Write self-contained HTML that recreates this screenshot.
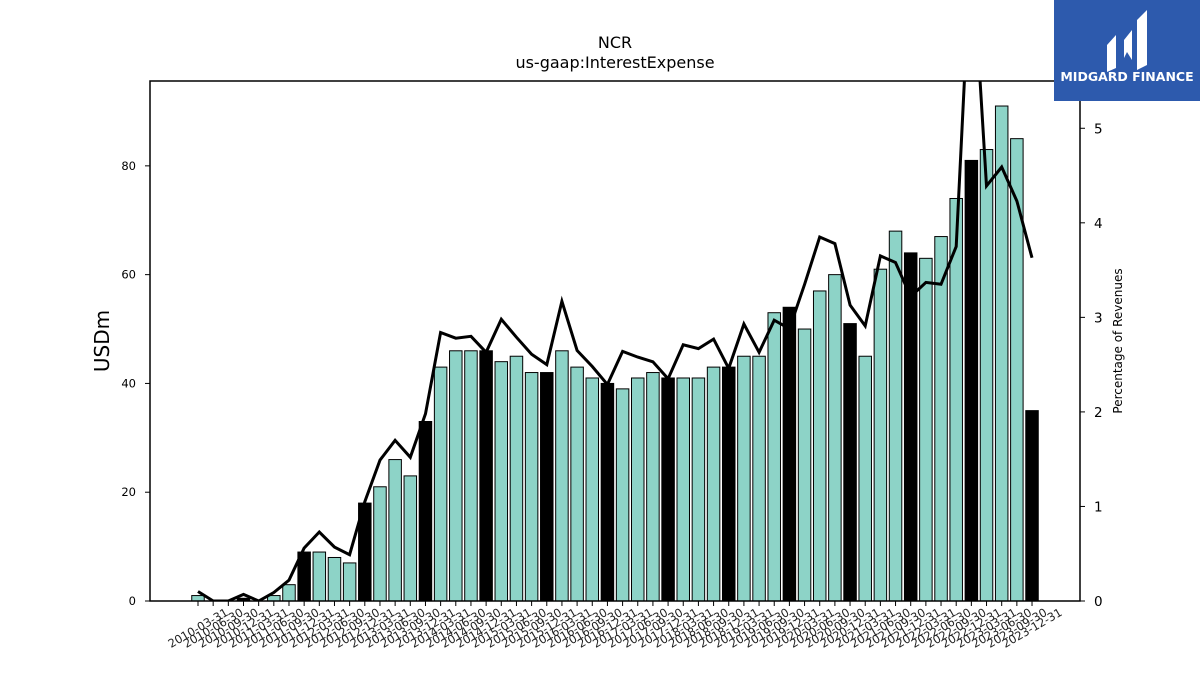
<!DOCTYPE html>
<html><head><meta charset="utf-8"><style>
body{margin:0;background:#fff;width:1200px;height:675px;overflow:hidden;font-family:"Liberation Sans","DejaVu Sans",sans-serif}
svg text{font-family:"DejaVu Sans","Liberation Sans",sans-serif}
</style></head><body>
<svg id="chart" width="1200" height="675" xmlns="http://www.w3.org/2000/svg">
<text x="615" y="48" font-size="16" text-anchor="middle">NCR</text>
<text x="615" y="68" font-size="16" text-anchor="middle">us-gaap:InterestExpense</text>
<text transform="translate(109,341) rotate(-90)" font-size="20" text-anchor="middle">USDm</text>
<text transform="translate(1122,341) rotate(-90)" font-size="12" text-anchor="middle">Percentage of Revenues</text>
<g id="bars"></g><g id="xt"></g><g id="yt"></g>
<path id="line" fill="none" stroke="#000" stroke-width="3"/>
<rect x="150" y="81" width="930" height="520" fill="none" stroke="#000" stroke-width="1.5"/>
<g>
<rect x="1054" y="0" width="146" height="101" fill="#2d5aad"/>
<path d="M1107 45 L1116 35 L1116 68 L1107 72 Z M1124 40 L1132 30 L1132 60 L1127 52 L1124 58 Z M1137 20 L1147 10 L1147 65 L1137 70 Z" fill="#fff"/>
<text x="1127" y="81" font-size="12.5" font-weight="bold" fill="#fff" text-anchor="middle">MIDGARD FINANCE</text>
</g>
</svg>
<script>
const categories=[];
const years=[2010,2011,2012,2013,2014,2015,2016,2017,2018,2019,2020,2021,2022,2023];
const qEnds=["03-31","06-30","09-30","12-31"];
years.forEach(y=>qEnds.forEach(q=>categories.push(y+"-"+q)));
const expense=[1,0,0,0.5, 0,1,3,9, 9,8,7,18, 21,26,23,33, 43,46,46,46, 44,45,42,42, 46,43,41,40, 39,41,42,41, 41,41,43,43, 45,45,53,54, 50,57,60,51, 45,61,68,64, 63,67,74,81, 83,91,85,35];
const pctRevenue=[0.1,0,0,0.07, 0,0.09,0.22,0.56, 0.73,0.57,0.49,1.05, 1.49,1.70,1.52,1.98, 2.84,2.78,2.80,2.63, 2.98,2.79,2.61,2.50, 3.17,2.65,2.48,2.29, 2.64,2.58,2.53,2.35, 2.71,2.67,2.77,2.46, 2.93,2.63,2.97,2.88, 3.35,3.85,3.78,3.13, 2.91,3.65,3.58,3.22, 3.37,3.35,3.75,7.0, 4.39,4.59,4.23,3.63];
const leftTicks=[0,20,40,60,80];
const rightTicks=[0,1,2,3,4,5];
const NS="http://www.w3.org/2000/svg";
const X0=198,DX=15.164,YB=601,YMAX=95.6,Y2MAX=5.5,PH=520;
const xs=i=>X0+i*DX, yL=v=>YB-v/YMAX*PH, yR=v=>YB-v/Y2MAX*PH;
function mk(t,a,p){const e=document.createElementNS(NS,t);for(const k in a)e.setAttribute(k,a[k]);p.appendChild(e);return e;}
const bars=document.getElementById('bars'),xt=document.getElementById('xt'),yt=document.getElementById('yt');
const bw=12.5;
expense.forEach((v,i)=>{
 const q4=i%4===3;
 const r=mk('rect',{x:xs(i)-bw/2,y:yL(v),width:bw,height:YB-yL(v),fill:q4?'#000':'#8dd3c7',stroke:'#000','stroke-width':1},bars);
 
 
 mk('line',{x1:xs(i),x2:xs(i),y1:YB,y2:YB+5,stroke:'#000'},xt);
 const t=mk('text',{x:0,y:4,'font-size':11.5,'text-anchor':'middle',fill:'#222',transform:`translate(${xs(i)},${YB+27}) rotate(-30)`},xt);
 t.textContent=categories[i];
 
 
});
leftTicks.forEach(v=>{
 mk('line',{x1:145,x2:150,y1:yL(v),y2:yL(v),stroke:'#000'},yt);
 const t=mk('text',{x:136,y:yL(v)+4,'font-size':11.5,'text-anchor':'end'},yt);
 t.textContent=v;
 
 
});
rightTicks.forEach(v=>{
 mk('line',{x1:1080,x2:1085,y1:yR(v),y2:yR(v),stroke:'#000'},yt);
 const t=mk('text',{x:1094,y:yR(v)+5,'font-size':13.5},yt);
 t.textContent=v;
 
 
});
document.getElementById('line').setAttribute('d',pctRevenue.map((v,i)=>(i?'L':'M')+xs(i).toFixed(1)+' '+yR(v).toFixed(1)).join(' '));
mk('clipPath',{id:'cp'},document.getElementById('chart')).appendChild(document.createElementNS(NS,'rect'));
const cr=document.querySelector('#cp rect');cr.setAttribute('x',150);cr.setAttribute('y',81);cr.setAttribute('width',930);cr.setAttribute('height',520);
document.getElementById('line').setAttribute('clip-path','url(#cp)');
</script>
</body></html>
